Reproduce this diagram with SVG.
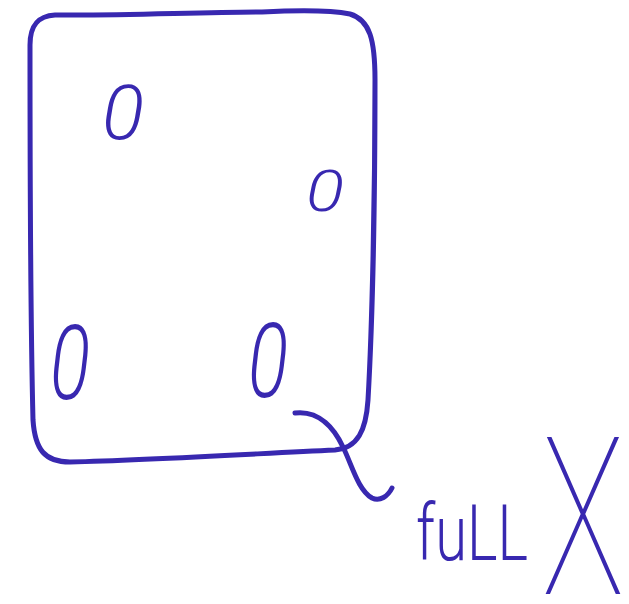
<svg xmlns="http://www.w3.org/2000/svg" width="629" height="604" viewBox="0 0 629 604">
<style>
.ink{fill:none;stroke:#3828B0;stroke-width:5;stroke-linecap:round;stroke-linejoin:round}
.t{fill:#3828B0;font-family:Roboto,"Liberation Sans",Arial,sans-serif;font-style:italic;font-weight:300}
.lab{fill:#3828B0;font-family:Roboto,"Liberation Sans",Arial,sans-serif;font-weight:300}
.big{font-weight:100}
</style>
<rect width="629" height="604" fill="#ffffff"/>
<g id="box">
<path class="ink" d="M55,15 C120,16 200,12 262,12 C300,10 330,10 350,14 C370,20 375,40 375,80 C375,200 372,330 368,400 C366,430 358,448 335,450 C250,454 150,460 70,462 C45,462 35,450 33,420 C30,300 30,150 30,45 C30,25 38,16 55,15 Z"/>
</g>
<g id="zeros">
<text class="t" x="102" y="139" font-size="76" textLength="42" lengthAdjust="spacingAndGlyphs">0</text>
<text class="t" x="306" y="211" font-size="58" textLength="38" lengthAdjust="spacingAndGlyphs">0</text>
<text class="t" x="50" y="399" font-size="104" textLength="40" lengthAdjust="spacingAndGlyphs">0</text>
<text class="t" x="248" y="397" font-size="104" textLength="40" lengthAdjust="spacingAndGlyphs">0</text>
</g>
<g id="connectors">
<path class="ink" d="M295,413 C320,410 335,430 343,447 C352,465 358,490 372,498 C380,502 388,496 392,488"/>
</g>
<g id="label">
<text class="lab" x="416" y="560" font-size="78"><tspan textLength="112" lengthAdjust="spacingAndGlyphs">fuLL</tspan><tspan class="big" x="542" y="594" font-size="220" textLength="82" lengthAdjust="spacingAndGlyphs">X</tspan></text>
</g>
</svg>
